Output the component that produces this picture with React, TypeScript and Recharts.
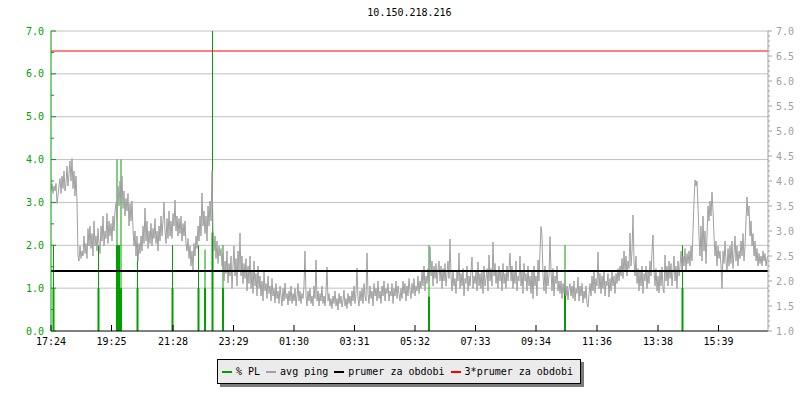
import React from 'react';
import { ComposedChart, Line, XAxis, YAxis, CartesianGrid, ReferenceLine } from 'recharts';

const TITLE = '10.150.218.216';
const STEP_MIN = 2;

// avg ping (ms), one value every 2 minutes starting 17:24
const pingMs = [
  3.8, 3.95, 3.75, 3.9, 3.8, 3.95, 3.55, 3.7, 3.9, 4.05,
  3.75, 4.1, 3.85, 4.2, 3.8, 3.95, 4.3, 3.9, 4.15, 4.4,
  4.0, 4.45, 3.85, 4.2, 3.7, 4.1, 3.6, 2.5, 2.4, 2.7,
  2.45, 2.6, 2.5, 2.9, 2.55, 2.75, 2.45, 3.05, 2.7, 3.1,
  2.65, 2.95, 2.5, 3.2, 2.7, 2.9, 2.6, 3.05, 2.75, 2.55,
  3.1, 2.8, 3.3, 2.7, 3.0, 2.85, 3.35, 2.75, 3.2, 2.9,
  3.15, 2.8, 3.3, 3.0, 3.4, 3.55, 3.2, 3.9, 3.5, 4.0,
  3.6, 4.1, 3.45, 3.8, 3.3, 3.65, 3.4, 3.75, 3.1, 3.55,
  3.2, 3.6, 3.05, 2.7, 3.0, 2.5, 2.9, 2.4, 2.75, 2.55,
  2.9, 2.6, 3.1, 2.75, 3.46, 2.8, 3.2, 2.65, 3.0, 2.75,
  3.15, 2.7, 3.05, 2.85, 3.25, 2.75, 3.0, 2.6, 3.1, 2.8,
  3.3, 2.9, 3.2, 3.58, 3.0, 2.75, 3.25, 2.85, 3.4, 2.9,
  3.2, 2.85, 3.35, 3.1, 3.62, 3.0, 3.3, 2.9, 3.25, 2.95,
  3.3, 2.8, 3.15, 2.9, 3.2, 2.75, 2.6, 2.85, 2.45, 2.7,
  2.3, 2.6, 2.2, 2.75, 2.5, 2.9, 2.65, 3.1, 2.8, 3.3,
  2.9, 3.76, 3.1, 3.4, 2.95, 3.3, 2.8, 3.5, 3.1, 3.6,
  3.2, 4.2, 3.0, 2.6, 2.9, 2.45, 2.8, 2.35, 2.7, 2.5,
  2.65, 2.3, 2.55, 2.0, 2.4, 2.15, 2.6, 1.96, 2.35, 2.1,
  2.5, 1.85, 2.3, 2.7, 2.1, 2.45, 1.9, 2.6, 2.2, 2.96,
  2.1, 2.5, 1.95, 2.35, 2.05, 2.45, 1.8, 2.3, 1.95, 2.5,
  1.85, 2.2, 1.75, 2.4, 1.9, 2.15, 1.7, 2.3, 1.85, 2.1,
  1.7, 2.0, 1.6, 2.2, 1.8, 1.95, 1.65, 2.1, 1.75, 1.9,
  1.6, 2.05, 1.7, 1.85, 1.56, 1.95, 1.65, 1.8, 1.55, 1.9,
  1.7, 1.5, 1.85, 1.6, 1.96, 1.65, 1.75, 1.52, 1.8, 1.6,
  1.9, 1.55, 1.75, 1.6, 1.85, 1.5, 1.7, 1.95, 1.6, 1.8,
  1.55, 1.75, 1.65, 1.9, 2.6, 1.7, 1.5, 1.8, 1.6, 1.85,
  1.55, 1.7, 1.5, 1.9, 1.65, 2.42, 1.6, 1.8, 1.5, 1.75,
  1.6, 1.9, 1.55, 1.7, 1.5, 1.8, 2.28, 1.6, 1.75, 1.5,
  1.65, 1.45, 1.7, 1.55, 1.8, 1.5, 1.65, 1.42, 1.75, 1.55,
  1.7, 1.48, 1.6, 1.82, 1.5, 1.65, 1.45, 1.75, 1.55, 1.7,
  1.5, 1.8, 1.6, 1.9, 1.55, 1.75, 2.26, 1.65, 1.5, 1.8,
  1.6, 1.85, 1.55, 1.95, 1.7, 1.6, 2.56, 1.75, 1.55, 1.9,
  1.65, 1.8, 1.5, 1.95, 1.7, 1.85, 1.6, 2.0, 1.65, 1.8,
  1.55, 1.9, 1.7, 2.0, 1.6, 1.85, 1.75, 1.95, 1.6, 1.8,
  1.7, 1.95, 1.55, 1.85, 1.7, 2.0, 1.65, 1.9, 1.75, 1.6,
  1.85, 1.65, 2.0, 1.75, 1.95, 1.6, 1.9, 1.7, 2.05, 1.8,
  1.65, 1.95, 1.75, 2.05, 1.7, 1.9, 1.8, 2.1, 1.75, 2.0,
  1.85, 2.2, 1.9, 2.3, 1.8, 2.1, 1.95, 2.25, 2.0, 2.68,
  2.1, 2.4, 1.9, 2.3, 2.05, 2.35, 1.95, 2.2, 2.4, 2.0,
  2.3, 1.85, 2.25, 2.0, 2.35, 1.9, 2.15, 2.4, 2.05, 2.84,
  2.1, 1.8, 2.2, 1.9, 2.05, 1.75, 2.2, 2.0, 2.56, 1.85,
  2.15, 1.9, 2.25, 1.7, 2.05, 1.95, 2.3, 1.8, 2.1, 1.9,
  2.2, 2.48, 1.85, 2.1, 1.95, 2.2, 1.8, 2.38, 1.9, 2.15,
  1.85, 2.2, 1.75, 2.3, 1.9, 2.05, 2.25, 1.8, 2.52, 2.0,
  2.25, 1.9, 2.78, 2.1, 2.35, 1.95, 2.2, 1.85, 2.3, 2.0,
  2.2, 1.8, 2.35, 1.95, 2.15, 1.85, 2.3, 2.0, 2.25, 2.56,
  2.0, 2.3, 1.85, 2.2, 1.95, 2.4, 1.8, 2.1, 2.0, 2.5,
  1.9, 2.2, 1.75, 2.35, 2.0, 2.15, 1.8, 2.3, 1.9, 2.1,
  1.75, 2.2, 1.65, 2.3, 1.9, 2.1, 1.7, 2.42, 2.0, 2.6,
  3.09, 2.9, 2.1, 1.8, 2.3, 1.75, 2.2, 1.9, 2.1, 2.89,
  2.2, 1.8, 2.25, 1.7, 2.1, 1.95, 2.3, 1.8, 2.0, 1.75,
  2.0, 1.65, 1.95, 1.75, 2.02, 1.7, 1.9, 1.62, 1.85, 1.95,
  1.7, 1.9, 1.65, 2.0, 1.6, 1.85, 1.75, 2.08, 1.6, 1.9,
  1.7, 1.95, 1.56, 1.8, 1.65, 1.9, 1.55, 1.48, 1.75, 1.95,
  1.7, 2.1, 1.8, 2.2, 1.75, 2.05, 1.9, 2.58, 1.85, 2.15,
  1.75, 2.1, 1.85, 2.22, 1.7, 2.0, 1.9, 2.15, 1.68, 2.05,
  1.8, 2.2, 1.9, 2.1, 1.75, 2.15, 1.95, 2.25, 2.0, 2.3,
  2.1, 2.45, 2.05, 2.6, 2.2, 2.5, 2.1, 2.4, 2.25, 2.96,
  2.3, 2.6, 3.32, 2.4, 2.1, 2.5, 1.95, 2.25, 1.8, 2.2,
  1.9, 2.3, 1.75, 2.15, 2.0, 2.3, 1.85, 2.2, 1.95, 2.4,
  2.1, 2.6, 2.92, 2.2, 1.9, 2.25, 1.8, 2.1, 1.76, 2.2,
  1.9, 2.28, 1.85, 1.76, 2.52, 2.0, 2.3, 1.9, 2.4, 2.05,
  2.35, 1.9, 2.2, 2.5, 2.0, 2.3, 1.85, 2.4, 2.1, 2.3,
  2.6, 2.2, 2.5, 2.3, 2.65, 2.2, 2.55, 2.35, 2.6, 2.3,
  2.7, 2.4, 3.0, 3.6, 4.02, 3.9, 4.0, 3.5, 2.9, 2.5,
  3.1, 2.4, 3.3, 2.6, 3.0, 2.35, 2.9, 3.5, 3.2, 3.6,
  3.3, 3.78, 3.4, 2.9, 2.5, 2.8, 2.3, 2.7, 2.45, 2.6,
  2.3, 1.85, 2.6, 2.35, 2.8, 2.4, 2.2, 2.65, 2.3, 2.7,
  2.35, 2.8, 2.25, 2.55, 2.9, 2.4, 2.7, 2.3, 2.6, 2.45,
  2.8, 2.5, 2.95, 2.4, 2.7, 3.2, 3.68, 3.3, 3.5, 2.9,
  3.2, 2.7, 2.95, 2.5, 2.8, 2.4, 2.65, 2.3, 2.55, 2.35,
  2.5, 2.3, 2.6, 2.4, 2.55, 2.3, 2.45, 2.5,
];

// packet loss events (%), minutes from 17:24
const plMinutes = [5, 95, 132, 136, 140, 173, 243, 295, 308, 323, 344, 756, 1028, 1263];
const plPeak = [2, 2, 4, 2, 4, 2, 2, 2, 1.9, 7, 2, 2, 2, 2];
const plBase = [1, 1, 2, 2, 1, 1, 1, 1, 1, 2.3, 1, 0.8, 1, 1];

const avgPing = 2.2;
const avgPing3 = 6.6;

const tickMinutes = [0, 121, 244, 365, 486, 607, 728, 849, 970, 1092, 1214, 1335];
const tickLabels = ['17:24', '19:25', '21:28', '23:29', '01:30', '03:31', '05:32', '07:33', '09:34', '11:36', '13:38', '15:39'];
const leftTicks = [0, 0.5, 1, 1.5, 2, 2.5, 3, 3.5, 4, 4.5, 5, 5.5, 6, 6.5, 7];
const gridValues = [1, 2, 3, 4, 5, 6, 7];
const rightTicks: number[] = [];
for (let i = 0; i <= 60; i++) rightTicks.push(Math.round((1 + i * 0.1) * 10) / 10);

const GREEN = '#00a000';
const GRAY = '#a0a0a0';
const FONT = '"DejaVu Sans Mono", monospace';
const PLOT_LEFT = 51;
const PLOT_RIGHT = 768;
const PLOT_BOTTOM = 331;

const pingData = pingMs.map((v, i) => ({ t: i * STEP_MIN, ping: v }));
const plThin = plMinutes.flatMap((t, i) => [{ t, pl: 0 }, { t, pl: plPeak[i] }, { t, pl: null }]);
const plThick = plMinutes.flatMap((t, i) => [{ t, pl: 0 }, { t, pl: plBase[i] }, { t, pl: null }]);

const LeftTick = (props: any) => {
  const { y, payload } = props;
  const v = payload.value as number;
  const major = Number.isInteger(v);
  return (
    <g>
      <line x1={PLOT_LEFT} x2={PLOT_LEFT + (major ? 5 : 3)} y1={y} y2={y} stroke={GREEN} />
      {major && (
        <text x={44} y={y} dy={3.5} textAnchor="end" fill={GREEN} fontSize={10} fontFamily={FONT}>
          {v.toFixed(1)}
        </text>
      )}
    </g>
  );
};

const RightTick = (props: any) => {
  const { y, payload } = props;
  const v = payload.value as number;
  const major = Math.abs(v * 2 - Math.round(v * 2)) < 1e-6;
  return (
    <g>
      <line x1={PLOT_RIGHT} x2={PLOT_RIGHT + (major ? 4 : 2)} y1={y} y2={y} stroke={GRAY} />
      {major && (
        <text x={PLOT_RIGHT + 8} y={y} dy={3.5} textAnchor="start" fill={GRAY} fontSize={10} fontFamily={FONT}>
          {v.toFixed(1)}
        </text>
      )}
    </g>
  );
};

const BottomTick = (props: any) => {
  const { x, payload } = props;
  const idx = tickMinutes.indexOf(payload.value);
  return (
    <g>
      <line x1={x} x2={x} y1={PLOT_BOTTOM} y2={PLOT_BOTTOM - 6} stroke="#000" />
      <text x={x} y={PLOT_BOTTOM} dy={13.5} textAnchor="middle" fill="#000" fontSize={10} fontFamily={FONT}>
        {idx >= 0 ? tickLabels[idx] : ''}
      </text>
    </g>
  );
};

const legendItems = [
  { label: '% PL', color: GREEN },
  { label: 'avg ping', color: GRAY },
  { label: 'prumer za obdobi', color: '#000000' },
  { label: '3*prumer za obdobi', color: '#ff0000' },
];

export default function App() {
  return (
    <div style={{ position: 'absolute', left: 0, top: 0, width: 800, height: 400, background: '#fff' }}>
      <div
        style={{
          position: 'absolute', left: PLOT_LEFT, top: 7, width: PLOT_RIGHT - PLOT_LEFT, textAlign: 'center',
          fontFamily: FONT, fontSize: 10, lineHeight: '12px', color: '#000',
        }}
      >
        {TITLE}
      </div>
      <ComposedChart width={800} height={400} margin={{ top: 31, right: 0, left: 0, bottom: 49 }} data={pingData}>
        <CartesianGrid yAxisId="left" vertical={false} horizontalValues={gridValues} stroke="#c0c0c0" strokeDasharray="" />
        <XAxis
          dataKey="t"
          type="number"
          domain={[0, 1434]}
          ticks={tickMinutes}
          interval={0}
          height={20}
          tickLine={false}
          axisLine={{ stroke: '#000' }}
          tick={BottomTick}
          allowDataOverflow
        />
        <YAxis
          yAxisId="left"
          orientation="left"
          width={51}
          domain={[0, 7]}
          ticks={leftTicks}
          interval={0}
          tickLine={false}
          axisLine={{ stroke: GREEN }}
          tick={LeftTick}
          allowDataOverflow
        />
        <YAxis
          yAxisId="right"
          orientation="right"
          width={32}
          domain={[1, 7]}
          ticks={rightTicks}
          interval={0}
          tickLine={false}
          axisLine={{ stroke: GRAY }}
          tick={RightTick}
          allowDataOverflow
        />
        <Line yAxisId="left" data={plThick} dataKey="pl" stroke={GREEN} strokeWidth={2} dot={false} isAnimationActive={false} connectNulls={false} />
        <Line yAxisId="left" data={plThin} dataKey="pl" stroke={GREEN} strokeWidth={1} dot={false} isAnimationActive={false} connectNulls={false} />
        <Line yAxisId="right" dataKey="ping" stroke={GRAY} strokeWidth={1} dot={false} isAnimationActive={false} type="linear" />
        <ReferenceLine yAxisId="right" y={avgPing} stroke="#000" strokeWidth={2} />
        <ReferenceLine yAxisId="right" y={avgPing3} stroke="#ff0000" strokeWidth={1} />
      </ComposedChart>
      <div
        style={{
          position: 'absolute', left: 217, top: 359, width: 364, height: 25, boxSizing: 'border-box',
          border: '1px solid #000', background: '#ebebeb', boxShadow: '3px 3px 0 #7a7a7a',
          display: 'flex', alignItems: 'center', paddingLeft: 4, fontFamily: FONT, fontSize: 10, color: '#000',
          whiteSpace: 'nowrap',
        }}
      >
        {legendItems.map((it) => (
          <div key={it.label} style={{ display: 'flex', alignItems: 'center', marginRight: 6 }}>
            <span style={{ display: 'inline-block', width: 10, height: 2, background: it.color, marginRight: 4 }} />
            <span>{it.label}</span>
          </div>
        ))}
      </div>
    </div>
  );
}
